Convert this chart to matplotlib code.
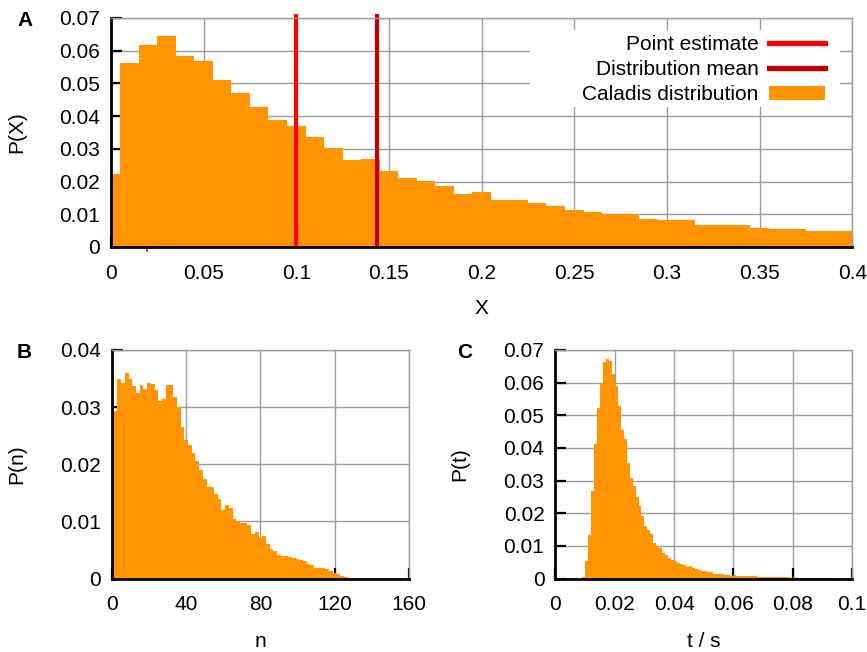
import numpy as np
import matplotlib.pyplot as plt
from matplotlib.lines import Line2D
from matplotlib.patches import Patch, Rectangle

# panel A: histogram of X, bins of 0.01 centred on multiples of 0.01
a_centers = np.round(np.arange(0, 41) * 0.01, 2)
a_vals = [0.0222, 0.0561, 0.0616, 0.0646, 0.0585, 0.0568, 0.0511, 0.0472, 0.0429, 0.0389,
          0.0370, 0.0337, 0.0303, 0.0267, 0.0270, 0.0233, 0.0210, 0.0202, 0.0186, 0.0162,
          0.0169, 0.0145, 0.0145, 0.0135, 0.0126, 0.0112, 0.0107, 0.0101, 0.0101, 0.0087,
          0.0083, 0.0083, 0.0068, 0.0068, 0.0068, 0.0059, 0.0056, 0.0056, 0.0050, 0.0049,
          0.0048]
point_estimate = 0.1
dist_mean = 0.1438
stray_mark_x = 0.0195

# panel B: histogram of n, bins of width 2
b_centers = np.arange(0, 128, 2)
b_vals = [0.0289, 0.0293, 0.0349, 0.0342, 0.0359, 0.0349, 0.0337, 0.0325, 0.0339, 0.0332,
          0.0342, 0.0341, 0.0330, 0.0310, 0.0315, 0.0339, 0.0338, 0.0317, 0.0300, 0.0265,
          0.0243, 0.0234, 0.0220, 0.0206, 0.0190, 0.0174, 0.0160, 0.0161, 0.0148, 0.0140,
          0.0120, 0.0128, 0.0124, 0.0104, 0.0100, 0.0098, 0.0098, 0.0093, 0.0078, 0.0082,
          0.0071, 0.0074, 0.0061, 0.0052, 0.0048, 0.0042, 0.0040, 0.0039, 0.0038, 0.0036,
          0.0035, 0.0033, 0.0030, 0.0026, 0.0023, 0.0019, 0.0018, 0.0018, 0.0016, 0.0014,
          0.0009, 0.0008, 0.0005, 0.0002]

# panel C: histogram of t, bins of 0.001 s starting at 0.009
c_left = np.round(0.009 + np.arange(86) * 0.001, 3)
c_vals = [0.0006, 0.0055, 0.0134, 0.0267, 0.0412, 0.0522, 0.0600, 0.0663, 0.0672, 0.0665,
          0.0627, 0.0590, 0.0527, 0.0455, 0.0427, 0.0353, 0.0309, 0.0282, 0.0251, 0.0221,
          0.0191, 0.0162, 0.0150, 0.0135, 0.0108, 0.0100, 0.0092, 0.0078, 0.0071, 0.0064,
          0.0057, 0.0053, 0.0047, 0.0044, 0.0040, 0.0035, 0.0039, 0.0033, 0.0028, 0.0027,
          0.0024, 0.0023, 0.0021, 0.0019, 0.0014, 0.0014, 0.0013, 0.0013, 0.0011, 0.0010,
          0.0009, 0.0010, 0.0009, 0.0009, 0.0008, 0.0008, 0.0007, 0.0007, 0.0007, 0.0006,
          0.0006, 0.0006, 0.0005, 0.0005, 0.0005, 0.0004, 0.0004, 0.0004, 0.0004, 0.0004,
          0.0003, 0.0004, 0.0003, 0.0003, 0.0003, 0.0003, 0.0002, 0.0002, 0.0002, 0.0002,
          0.0002, 0.0002, 0.0001, 0.0001, 0.0001, 0.0001]

a_xticks = [0, 0.05, 0.1, 0.15, 0.2, 0.25, 0.3, 0.35, 0.4]
a_xlabels = ['0', '0.05', '0.1', '0.15', '0.2', '0.25', '0.3', '0.35', '0.4']
a_yticks = [0, 0.01, 0.02, 0.03, 0.04, 0.05, 0.06, 0.07]
a_ylabels = ['0', '0.01', '0.02', '0.03', '0.04', '0.05', '0.06', '0.07']
b_xticks = [0, 40, 80, 120, 160]
b_yticks = [0, 0.01, 0.02, 0.03, 0.04]
b_ylabels = ['0', '0.01', '0.02', '0.03', '0.04']
c_xticks = [0, 0.02, 0.04, 0.06, 0.08, 0.1]
c_xlabels = ['0', '0.02', '0.04', '0.06', '0.08', '0.1']
legend_labels = ['Point estimate', 'Distribution mean', 'Caladis distribution']

ORANGE = '#ff9400'
RED = '#ff0000'
DARKRED = '#c00000'
GRID = '#9c9c9c'

plt.rcParams['font.family'] = ['Liberation Sans', 'DejaVu Sans']
plt.rcParams['font.size'] = 15


def style(ax):
    ax.set_axisbelow(True)
    ax.grid(True, color=GRID, lw=1.0)
    for s in ['top', 'right']:
        ax.spines[s].set_color(GRID)
        ax.spines[s].set_linewidth(1.0)
    for s in ['left', 'bottom']:
        ax.spines[s].set_color('black')
        ax.spines[s].set_linewidth(2.0)
    ax.tick_params(direction='in', length=8, width=1.6, top=False, right=False)
    ax.tick_params(axis='x', pad=12)
    ax.tick_params(axis='y', pad=8)


fig = plt.figure(figsize=(8.67, 6.52), dpi=100)

# ---- A
axA = fig.add_axes([0.128, 0.6212, 0.855, 0.3512])
axA.bar(a_centers, a_vals, width=0.01, color=ORANGE, linewidth=0)
axA.plot([point_estimate, point_estimate], [0, 0.0712], color=RED, lw=3, clip_on=False, solid_capstyle='butt')
axA.plot([dist_mean, dist_mean], [0, 0.0712], color=DARKRED, lw=3, clip_on=False, solid_capstyle='butt')
axA.plot([stray_mark_x, stray_mark_x], [-0.0012, 0], color=RED, lw=1.2, clip_on=False)
axA.set_xlim(0, 0.4)
axA.set_ylim(0, 0.07)
axA.set_xticks(a_xticks, a_xlabels)
axA.set_yticks(a_yticks, a_ylabels)
style(axA)
axA.text(0.5, -0.27, 'X', transform=axA.transAxes, ha='center', va='center')
axA.text(-0.127, 0.5, 'P(X)', transform=axA.transAxes, ha='center', va='center', rotation=90)
fig.text(17 / 867, 1 - 20 / 652, 'A', fontweight='bold', ha='left', va='center')

# white key box that hides the grid behind the legend
axA.add_patch(Rectangle((0.5655, 0.611), 0.4185, 0.337, transform=axA.transAxes,
                        facecolor='white', edgecolor='none', zorder=0.8))
handles = [Line2D([], [], color=RED, lw=3.8),
           Line2D([], [], color=DARKRED, lw=3.8),
           Patch(facecolor=ORANGE, edgecolor='none')]
leg = axA.legend(handles, legend_labels,
                 loc='upper right', bbox_to_anchor=(0.975, 0.963), markerfirst=False,
                 frameon=False, handlelength=2.7, handleheight=0.65, handletextpad=0.5,
                 labelspacing=0.3, borderpad=0.4, borderaxespad=0)
for t in leg.get_texts():
    t.set_ha('right')

# ---- B
axB = fig.add_axes([0.129, 0.1127, 0.3426, 0.3505])
axB.bar(b_centers, b_vals, width=2, color=ORANGE, linewidth=0)
axB.set_xlim(0, 160)
axB.set_ylim(0, 0.04)
axB.set_xticks(b_xticks)
axB.set_yticks(b_yticks, b_ylabels)
style(axB)
axB.text(0.5, -0.2735, 'n', transform=axB.transAxes, ha='center', va='center')
axB.text(-0.32, 0.5, 'P(n)', transform=axB.transAxes, ha='center', va='center', rotation=90)
fig.text(17 / 867, 1 - 352 / 652, 'B', fontweight='bold', ha='left', va='center')

# ---- C
axC = fig.add_axes([0.6407, 0.1127, 0.342, 0.3505])
axC.bar(c_left, c_vals, width=0.001, align='edge', color=ORANGE, linewidth=0)
axC.set_xlim(0, 0.1)
axC.set_ylim(0, 0.07)
axC.set_xticks(c_xticks, c_xlabels)
axC.set_yticks(a_yticks, a_ylabels)
style(axC)
axC.text(0.5, -0.2735, 't / s', transform=axC.transAxes, ha='center', va='center')
axC.text(-0.322, 0.5, 'P(t)', transform=axC.transAxes, ha='center', va='center', rotation=90)
fig.text(457 / 867, 1 - 352 / 652, 'C', fontweight='bold', ha='left', va='center')

fig.savefig('out.png', dpi=100)
